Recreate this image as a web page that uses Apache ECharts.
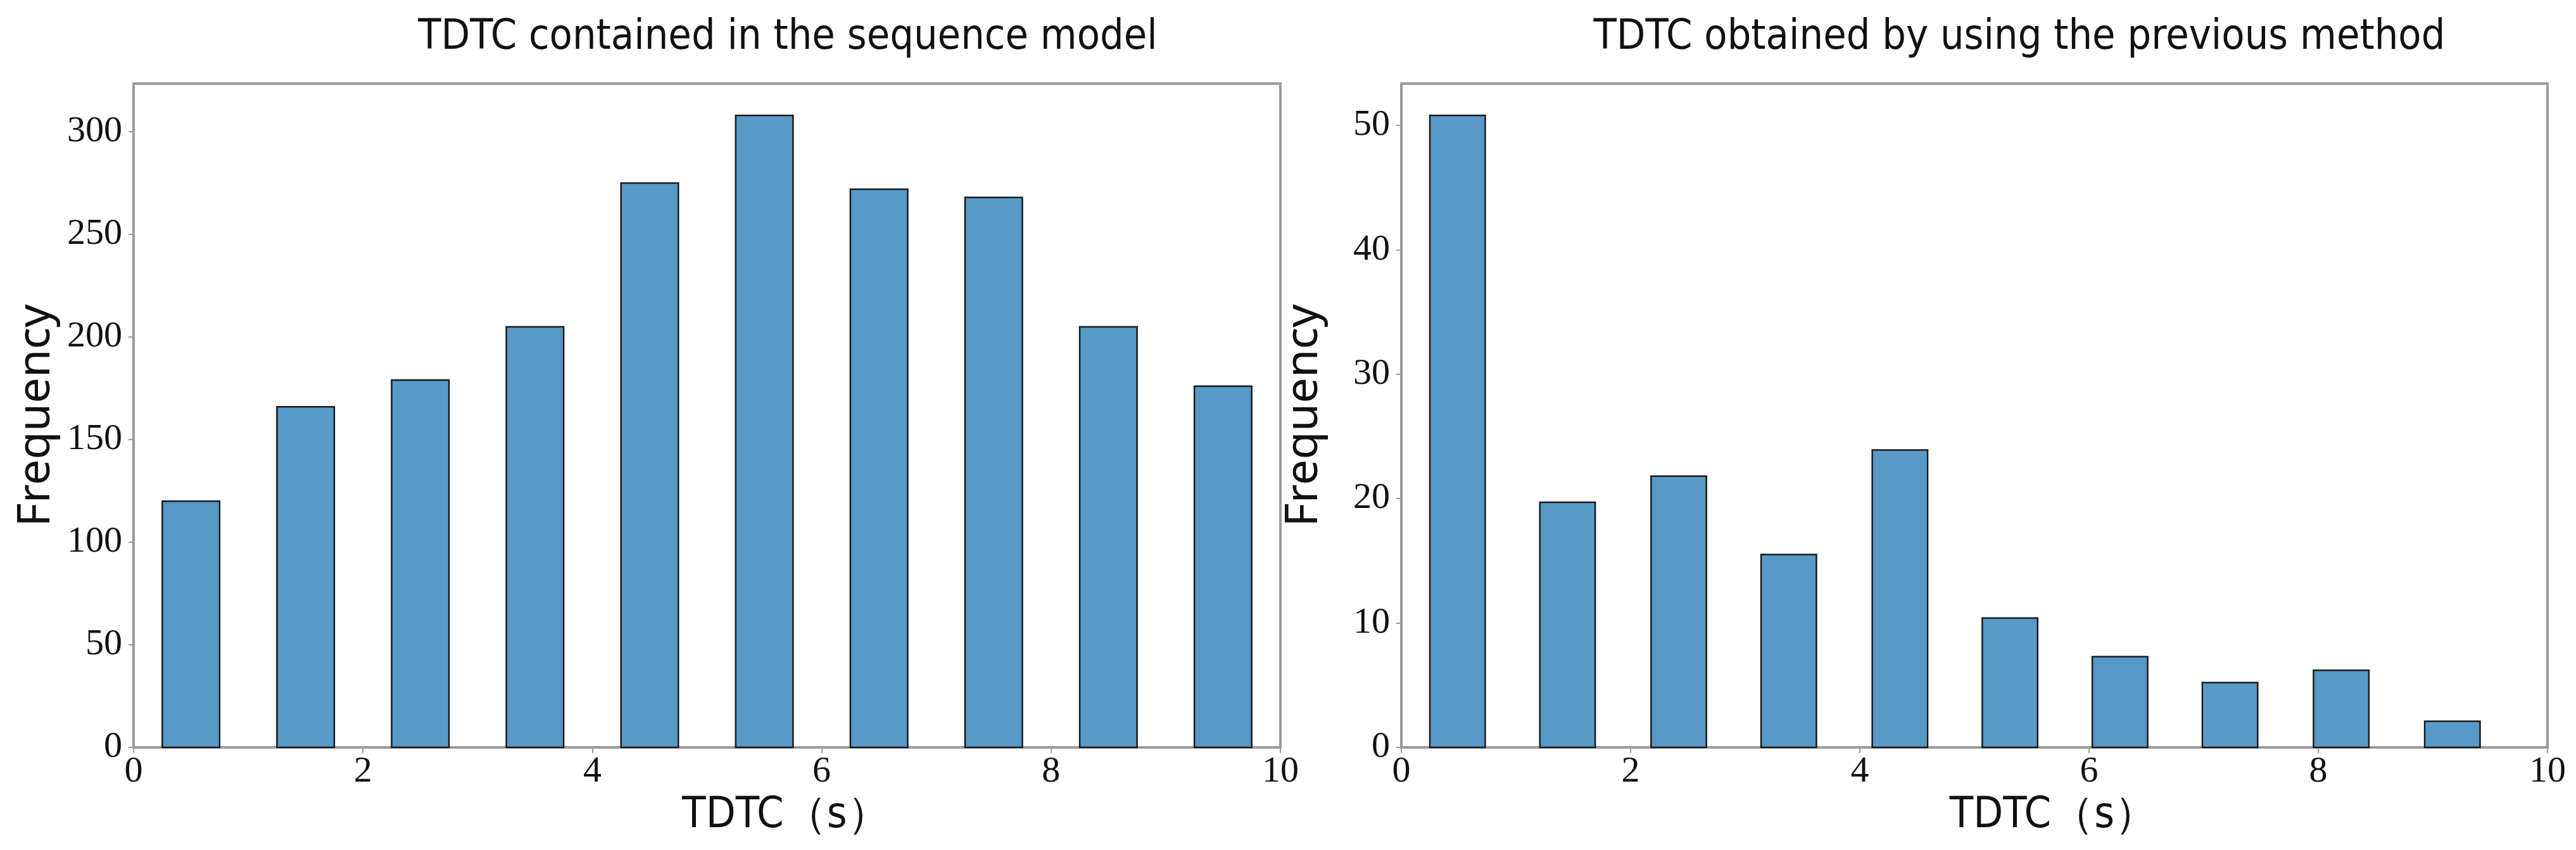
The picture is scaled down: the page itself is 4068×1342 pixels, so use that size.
<!DOCTYPE html>
<html>
<head>
<meta charset="utf-8">
<script src="https://cdn.jsdelivr.net/npm/echarts@6/dist/echarts.min.js"></script>
<style>
html,body{margin:0;padding:0;background:#fff;}
#chart{width:4068px;height:1342px;}
</style>
</head>
<body>
<div id="chart"></div>
<script>
// ---- data ----
const titleA = 'TDTC contained in the sequence model';
const titleB = 'TDTC obtained by using the previous method';
const xAxisName = 'TDTC（s）';
const yAxisName = 'Frequency';

// left histogram: bin centres (s), bin width (s), counts
const binCentersA = [0.5, 1.5, 2.5, 3.5, 4.5, 5.5, 6.5, 7.5, 8.5, 9.5];
const binWidthA = 1.0;
const countsA = [120, 166, 179, 205, 275, 308, 272, 268, 205, 176];

// right histogram
const binCentersB = [0.49, 1.45, 2.42, 3.38, 4.35, 5.31, 6.27, 7.23, 8.20, 9.17];
const binWidthB = 0.966;
const countsB = [50.8, 19.7, 21.8, 15.5, 23.9, 10.4, 7.3, 5.2, 6.2, 2.1];

const xTicks = [0, 2, 4, 6, 8, 10];
const yMaxA = 323.5, yStepA = 50;
const yMaxB = 53.36, yStepB = 10;

// ---- styles ----
const RWIDTH = 0.5;
const BAR_FILL = '#5799c7';
const BAR_EDGE = '#1a1a1a';
const FRAME = '#9a9a9a';
const SERIF = '"Liberation Serif", "DejaVu Serif", serif';
const NARROW = '"Liberation Sans Narrow", "DejaVu Sans Condensed", "Liberation Sans", sans-serif';
const SANS = '"Noto Sans", "DejaVu Sans", sans-serif';

const chart = echarts.init(document.getElementById('chart'), null, {renderer: 'canvas'});

function makeRender(binWidth) {
  return function (params, api) {
    const c = api.value(0), v = api.value(1);
    const half = binWidth * RWIDTH / 2;
    const p0 = api.coord([c - half, v]);
    const p1 = api.coord([c + half, 0]);
    return {
      type: 'rect',
      shape: {x: p0[0], y: p0[1], width: p1[0] - p0[0], height: p1[1] - p0[1]},
      style: {fill: BAR_FILL, stroke: BAR_EDGE, lineWidth: 2.5}
    };
  };
}

function xAxisOpt(gridIndex) {
  return {
    type: 'value', gridIndex, min: xTicks[0], max: xTicks[xTicks.length - 1], interval: 2,
    name: xAxisName, nameLocation: 'middle', nameGap: 74,
    nameTextStyle: {fontFamily: NARROW, fontSize: 68, color: '#111', padding: [0, 0, 0, 250]},
    axisLine: {show: true, lineStyle: {color: FRAME, width: 4}},
    axisTick: {show: true, length: 9, inside: false, lineStyle: {color: FRAME, width: 2}},
    axisLabel: {fontFamily: SERIF, fontSize: 58, color: '#111', margin: 10},
    splitLine: {show: false}
  };
}
function yAxisOpt(gridIndex, max, step) {
  return {
    type: 'value', gridIndex, min: 0, max, interval: step,
    name: yAxisName, nameLocation: 'middle', nameGap: 118,
    nameTextStyle: {fontFamily: SANS, fontSize: 72, color: '#111'},
    axisLine: {show: true, lineStyle: {color: FRAME, width: 4}},
    axisTick: {show: true, length: 8, lineStyle: {color: FRAME, width: 2}},
    axisLabel: {fontFamily: SERIF, fontSize: 58, color: '#111', margin: 18,
      showMaxLabel: false},
    splitLine: {show: false}
  };
}

const option = {
  backgroundColor: '#fff',
  animation: false,
  title: [
    {text: titleA, left: 1239, top: 22, textAlign: 'center',
     textStyle: {fontFamily: NARROW, fontSize: 66, fontWeight: 'normal', color: '#111'}},
    {text: titleB, left: 3184, top: 22, textAlign: 'center',
     textStyle: {fontFamily: NARROW, fontSize: 66, fontWeight: 'normal', color: '#111'}}
  ],
  grid: [
    {left: 211, top: 132, width: 1811, height: 1048, show: true, borderColor: FRAME, borderWidth: 4, containLabel: false},
    {left: 2213, top: 132, width: 1810, height: 1048, show: true, borderColor: FRAME, borderWidth: 4, containLabel: false}
  ],
  xAxis: [xAxisOpt(0), xAxisOpt(1)],
  yAxis: [yAxisOpt(0, yMaxA, yStepA), yAxisOpt(1, yMaxB, yStepB)],
  series: [
    {type: 'custom', xAxisIndex: 0, yAxisIndex: 0, renderItem: makeRender(binWidthA),
     encode: {x: 0, y: 1}, data: binCentersA.map((c, i) => [c, countsA[i]])},
    {type: 'custom', xAxisIndex: 1, yAxisIndex: 1, renderItem: makeRender(binWidthB),
     encode: {x: 0, y: 1}, data: binCentersB.map((c, i) => [c, countsB[i]])}
  ]
};
chart.setOption(option);
</script>
</body>
</html>
